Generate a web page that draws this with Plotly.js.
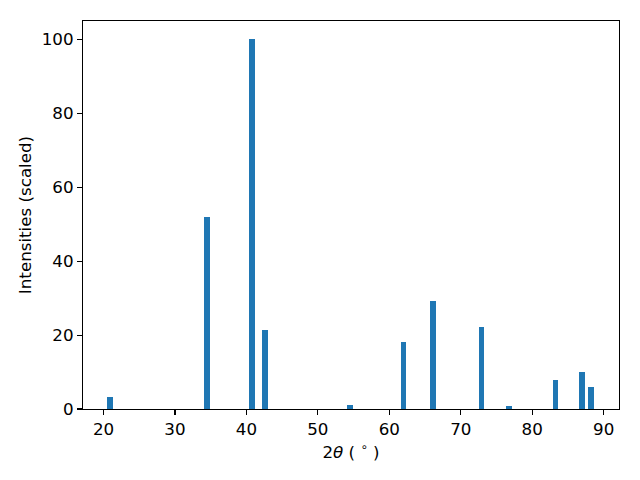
<!DOCTYPE html>
<html>
<head>
<meta charset="utf-8">
<script src="https://cdn.plot.ly/plotly-3.0.1.min.js"></script>
<style>html,body{margin:0;padding:0;background:#fff;}#chart{width:640px;height:480px;}</style>
</head>
<body>
<div id="chart"></div>
<script>
const twoTheta = [20.9, 34.5, 40.8, 42.65, 54.5, 62.0, 66.15, 72.9, 76.8, 83.25, 87.0, 88.25];
const intensities = [3.2, 52.0, 100, 21.4, 1.1, 18.2, 29.3, 22.2, 0.8, 7.9, 10.0, 6.0];
const xTicks = [20, 30, 40, 50, 60, 70, 80, 90];
const yTicks = [0, 20, 40, 60, 80, 100];

const font = {family: 'DejaVu Sans', size: 16.7, color: '#000'};
const trace = {
  type: 'bar', x: twoTheta, y: intensities, width: 0.8,
  marker: {color: '#1f77b4', line: {width: 0}}
};
const axisCommon = {
  showgrid: false, zeroline: false, showline: true, linecolor: '#000', linewidth: 1.1,
  mirror: true, ticks: 'outside', ticklen: 5, tickwidth: 1.1, tickcolor: '#000',
  tickfont: font
};
const layout = {
  width: 640, height: 480,
  margin: {l: 83, r: 21, t: 21, b: 71},
  paper_bgcolor: '#fff', plot_bgcolor: '#fff',
  font: font, showlegend: false, bargap: 0,
  xaxis: Object.assign({}, axisCommon, {
    range: [17.13, 92.15], tickvals: xTicks, ticktext: xTicks.map(String),
    title: {text: '2<i>θ</i> ( <sup>∘</sup> )', font: font, standoff: 8}
  }),
  yaxis: Object.assign({}, axisCommon, {
    range: [0, 105], tickvals: yTicks, ticktext: yTicks.map(String),
    title: {text: 'Intensities (scaled)', font: font, standoff: 5}
  })
};
Plotly.newPlot('chart', [trace], layout, {displayModeBar: false, staticPlot: true});
</script>
</body>
</html>
